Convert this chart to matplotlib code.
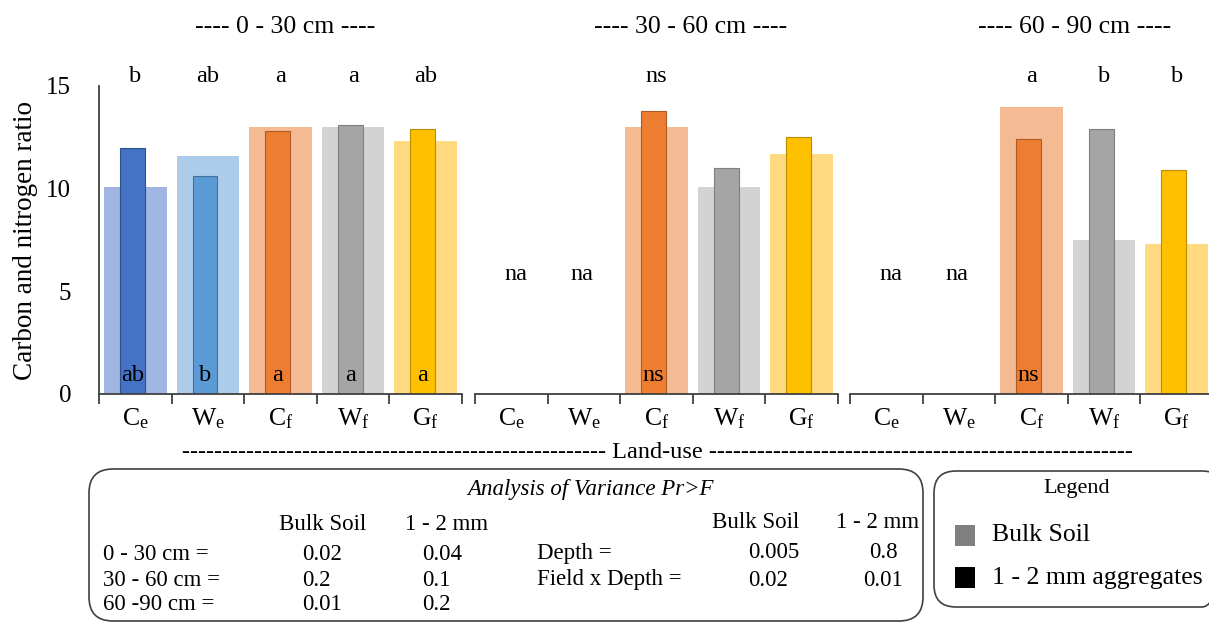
import numpy as np
import matplotlib
matplotlib.use("Agg")
import matplotlib.pyplot as plt
from matplotlib.patches import FancyBboxPatch, Rectangle

plt.rcParams['font.family'] = ['Liberation Serif', 'DejaVu Serif']
plt.rcParams['mathtext.fontset'] = 'custom'
plt.rcParams['mathtext.rm'] = 'Liberation Serif'
plt.rcParams['mathtext.it'] = 'Liberation Serif:italic'

# land uses and C:N ratios per depth (nan = not available)
cats = [r'C$_{\mathrm{e}}$', r'W$_{\mathrm{e}}$', r'C$_{\mathrm{f}}$',
        r'W$_{\mathrm{f}}$', r'G$_{\mathrm{f}}$']
depths = ['---- 0 - 30 cm ----', '---- 30 - 60 cm ----', '---- 60 - 90 cm ----']
na = np.nan
bulk_0_30 = [10.1, 11.6, 13.0, 13.0, 12.3]
agg_0_30 = [12.0, 10.6, 12.8, 13.1, 12.9]
bulk_30_60 = [na, na, 13.0, 10.1, 11.7]
agg_30_60 = [na, na, 13.8, 11.0, 12.5]
bulk_60_90 = [na, na, 14.0, 7.5, 7.3]
agg_60_90 = [na, na, 12.4, 12.9, 10.9]

# significance letters (bulk soil above, aggregates at bar base)
top_0_30 = ['b', 'ab', 'a', 'a', 'ab']
base_0_30 = ['ab', 'b', 'a', 'a', 'a']
top_30_60 = ['', '', 'ns', '', '']
base_30_60 = ['', '', 'ns', '', '']
top_60_90 = ['', '', 'a', 'b', 'b']
base_60_90 = ['', '', 'ns', '', '']

agg_colors = ['#4472C4', '#5B9BD5', '#ED7D31', '#A5A5A5', '#FFC000']
bulk_colors = ['#A0B5DF', '#ADCCEA', '#F4BA94', '#D3D3D3', '#FFDA80']
agg_edges = ['#2F528F', '#41719C', '#AE5A21', '#7F7F7F', '#BC8C00']

# ANOVA table
anova_rows = ['0 - 30 cm =', '30 - 60 cm =', '60 -90 cm =']
anova_bulk = ['0.02', '0.2', '0.01']
anova_agg = ['0.04', '0.1', '0.2']
effect_rows = ['Depth =', 'Field x Depth =']
effect_bulk = ['0.005', '0.02']
effect_agg = ['0.8', '0.01']

W, H = 1209, 624
fig = plt.figure(figsize=(W / 100, H / 100), dpi=100)

bulk_sets = [bulk_0_30, bulk_30_60, bulk_60_90]
agg_sets = [agg_0_30, agg_30_60, agg_60_90]
tops = [top_0_30, top_30_60, top_60_90]
bases = [base_0_30, base_30_60, base_60_90]
lefts = [99, 475, 850]
na_shift = [0.06, -0.03]
y0, y15 = 394, 86
axw = 363
fs = 17.5

for k in range(3):
    ax = fig.add_axes([lefts[k] / W, (H - y0) / H, axw / W, (y0 - y15) / H])
    x = np.arange(5)
    ax.bar(x, bulk_sets[k], width=0.86, color=bulk_colors, zorder=1)
    ax.bar(x - 0.04, agg_sets[k], width=0.34, color=agg_colors,
           edgecolor=agg_edges, linewidth=0.8, zorder=2)
    ax.set_xlim(-0.5, 4.5)
    ax.set_ylim(0, 15)
    ax.set_xticks(x)
    ax.set_xticklabels(cats, fontsize=18.5)
    ax.set_xticks(np.arange(-0.5, 5, 1), minor=True)
    ax.tick_params(axis='x', which='major', length=0, pad=9)
    ax.tick_params(axis='x', which='minor', length=7, width=1.3,
                   color='#404040', direction='out')
    for s in ['top', 'right']:
        ax.spines[s].set_visible(False)
    ax.spines['bottom'].set_color('#404040')
    ax.spines['bottom'].set_linewidth(1.3)
    if k == 0:
        ax.set_yticks([0, 5, 10, 15])
        ax.tick_params(axis='y', length=0, pad=20, labelsize=18)
        ax.spines['left'].set_color('#404040')
        ax.spines['left'].set_linewidth(1.3)
        ax.set_ylabel('Carbon and nitrogen ratio', fontsize=19.5, labelpad=6)
    else:
        ax.spines['left'].set_visible(False)
        ax.set_yticks([])
    for i in range(5):
        if tops[k][i]:
            ax.text(i, 15.45, tops[k][i], ha='center', va='center',
                    fontsize=fs, clip_on=False)
        if bases[k][i]:
            ax.text(i - 0.04, 0.9, bases[k][i], ha='center', va='center',
                    fontsize=fs, zorder=3)
        if np.isnan(bulk_sets[k][i]):
            ax.text(i + na_shift[i], 5.8, 'na', ha='center', va='center',
                    fontsize=fs)

# overlay in pixel units for titles, table and legend
ov = fig.add_axes([0, 0, 1, 1])
ov.set_xlim(0, W)
ov.set_ylim(H, 0)
ov.axis('off')

for cx, t in zip([285, 691, 1075], depths):
    ov.text(cx, 27, t, ha='center', va='center', fontsize=18.5)

ov.text(657, 452, '-' * 53 + ' Land-use ' + '-' * 53, ha='center',
        va='center', fontsize=17.5)

# ANOVA box
ov.add_patch(FancyBboxPatch((89, 469), 834, 152,
                            boxstyle='round,pad=0,rounding_size=24',
                            fc='none', ec='#404040', lw=1.2))
tfs = 16.5
ov.text(590, 489, 'Analysis of Variance Pr>F', ha='center', va='center',
        fontsize=tfs, style='italic')
ov.text(323, 524, 'Bulk Soil', ha='center', va='center', fontsize=tfs)
ov.text(447, 524, '1 - 2 mm', ha='center', va='center', fontsize=tfs)
for j, yy in enumerate([555, 580, 605]):
    ov.text(103, yy, anova_rows[j], ha='left', va='center', fontsize=tfs)
    ov.text(302, yy, anova_bulk[j], ha='left', va='center', fontsize=tfs)
    ov.text(422, yy, anova_agg[j], ha='left', va='center', fontsize=tfs)
ov.text(756, 522, 'Bulk Soil', ha='center', va='center', fontsize=tfs)
ov.text(878, 522, '1 - 2 mm', ha='center', va='center', fontsize=tfs)
for j, yy in enumerate([553, 580]):
    ov.text(537, yy, effect_rows[j], ha='left', va='center', fontsize=tfs)
    ov.text(748, yy, effect_bulk[j], ha='left', va='center', fontsize=tfs)
    ov.text(883, yy, effect_agg[j], ha='center', va='center', fontsize=tfs)

# legend box
ov.add_patch(FancyBboxPatch((934, 471), 290, 136,
                            boxstyle='round,pad=0,rounding_size=22',
                            fc='none', ec='#404040', lw=1.2))
ov.text(1077, 488, 'Legend', ha='center', va='center', fontsize=16)
ov.add_patch(Rectangle((955, 525), 20, 21, fc='#808080', ec='none'))
ov.add_patch(Rectangle((955, 567), 20, 21, fc='#000000', ec='none'))
ov.text(992, 535, 'Bulk Soil', ha='left', va='center', fontsize=18.5)
ov.text(992, 578, '1 - 2 mm aggregates', ha='left', va='center', fontsize=18.5)

fig.savefig('out.png', dpi=100)
